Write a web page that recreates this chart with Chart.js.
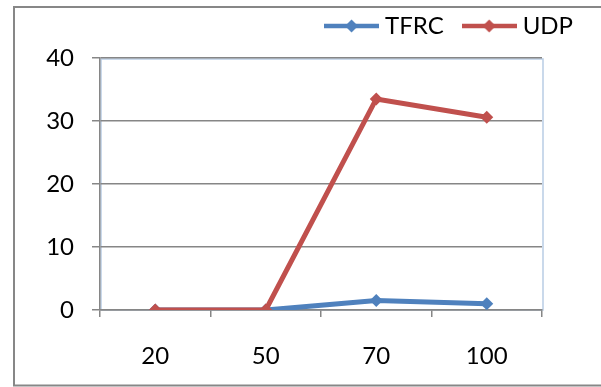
<!DOCTYPE html>
<html>
<head>
<meta charset="utf-8">
<script src="https://cdn.jsdelivr.net/npm/chart.js@4.4.1/dist/chart.umd.min.js"></script>
<style>
    body { margin: 0; background: #fff; }
    canvas { display: block; }
</style>
</head>
<body>
<canvas id="lossChart" width="601" height="387"></canvas>
<script>
// data
const categories = ['20', '50', '70', '100'];
const tfrcValues = [0, 0, 1.5, 1.0];
const udpValues = [0, 0, 33.5, 30.6];
const seriesNames = ['TFRC', 'UDP'];
const seriesColors = ['#4F81BD', '#C0504D'];
const yTicks = [0, 10, 20, 30, 40];

const gridGray = '#868686';
const font = { family: 'Lato, "Liberation Sans", sans-serif', size: 24 };

// little line + diamond icon like Excel's legend
function legendIcon(color) {
    const c = document.createElement('canvas');
    c.width = 55;
    c.height = 16;
    const g = c.getContext('2d');
    g.strokeStyle = color;
    g.lineWidth = 4.5;
    g.beginPath();
    g.moveTo(0, 8);
    g.lineTo(55, 8);
    g.stroke();
    g.fillStyle = color;
    g.beginPath();
    g.moveTo(27.5, 1.5);
    g.lineTo(34, 8);
    g.lineTo(27.5, 14.5);
    g.lineTo(21, 8);
    g.closePath();
    g.fill();
    return c;
}
const icons = seriesColors.map(legendIcon);

// outer frame + light blue plot area border
const framePlugin = {
    id: 'frame',
    beforeDraw(chart) {
        const { ctx, chartArea: a } = chart;
        ctx.save();
        ctx.strokeStyle = '#B9CDE5';
        ctx.lineWidth = 1.5;
        ctx.strokeRect(a.left + 1, a.top + 1, a.right - a.left, a.bottom - a.top - 1);
        ctx.restore();
    },
    afterDraw(chart) {
        const ctx = chart.ctx;
        ctx.save();
        ctx.strokeStyle = '#878787';
        ctx.lineWidth = 2;
        ctx.beginPath();
        ctx.moveTo(601, 7);
        ctx.lineTo(14, 7);
        ctx.lineTo(14, 385.5);
        ctx.lineTo(601, 385.5);
        ctx.stroke();
        ctx.restore();
    }
};

new Chart('lossChart', {
    type: 'line',
    data: {
        labels: categories,
        datasets: [
            {
                label: seriesNames[0],
                data: tfrcValues,
                borderColor: seriesColors[0],
                backgroundColor: seriesColors[0],
                borderWidth: 5,
                pointStyle: 'rectRot',
                pointRadius: 6.5,
                pointBorderWidth: 0,
                tension: 0,
                order: 1
            },
            {
                label: seriesNames[1],
                data: udpValues,
                borderColor: seriesColors[1],
                backgroundColor: seriesColors[1],
                borderWidth: 5,
                pointStyle: 'rectRot',
                pointRadius: 6.5,
                pointBorderWidth: 0,
                tension: 0,
                order: 0
            }
        ]
    },
    options: {
        responsive: false,
        animation: false,
        devicePixelRatio: 1,
        layout: { padding: { top: -10, right: 4, left: 0, bottom: 0 } },
        plugins: {
            tooltip: { enabled: false },
            // empty title used as a spacer between legend and plot
            title: {
                display: true,
                text: '',
                position: 'top',
                weight: 500,
                padding: 0,
                font: { size: 10, lineHeight: 1 }
            },
            legend: {
                position: 'top',
                align: 'end',
                labels: {
                    usePointStyle: true,
                    pointStyleWidth: 43, // icon is 55 wide, overlaps the text gap a bit
                    padding: 24,
                    color: '#000',
                    font: font,
                    sort: (a, b) => a.datasetIndex - b.datasetIndex,
                    generateLabels(chart) {
                        const items = Chart.defaults.plugins.legend.labels.generateLabels(chart);
                        items.forEach(it => { it.pointStyle = icons[it.datasetIndex]; });
                        return items;
                    }
                }
            }
        },
        scales: {
            x: {
                type: 'category',
                offset: true,
                grid: {
                    offset: true,
                    drawOnChartArea: false,
                    drawTicks: true,
                    tickLength: 7,
                    color: gridGray,
                    lineWidth: 1.5
                },
                border: { color: gridGray, width: 1.5 },
                ticks: { color: '#000', font: font, padding: 25, maxRotation: 0 },
                afterFit(s) { s.height = 77; }
            },
            y: {
                min: yTicks[0],
                max: yTicks[yTicks.length - 1],
                afterBuildTicks(s) { s.ticks = yTicks.map(v => ({ value: v })); },
                grid: { color: gridGray, lineWidth: 1.5, tickLength: 8 },
                border: { color: gridGray, width: 1.5 },
                ticks: { color: '#000', font: font, padding: 18 },
                afterFit(s) { s.width = 100; }
            },
            r: {
                type: 'linear',
                position: 'right',
                grid: { display: false },
                border: { display: false },
                ticks: { display: false },
                afterFit(s) { s.width = 55; }
            }
        }
    },
    plugins: [framePlugin]
});
</script>
</body>
</html>
